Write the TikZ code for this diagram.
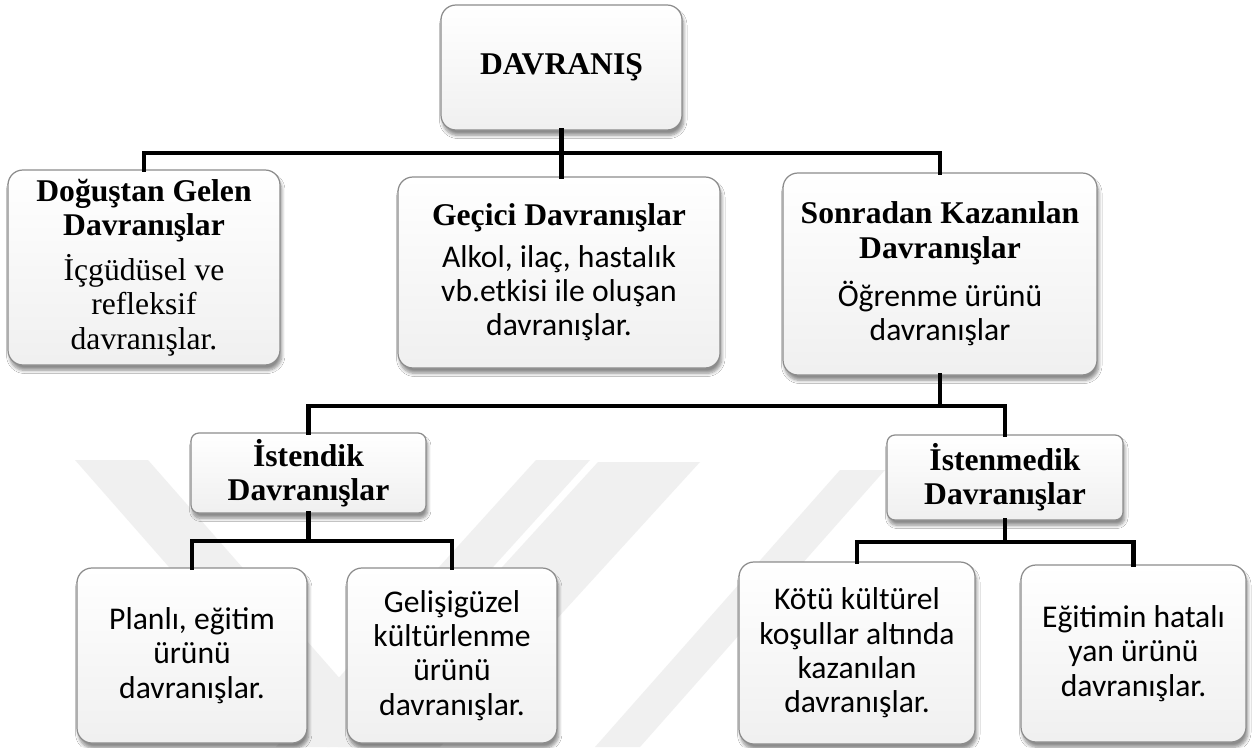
\documentclass[tikz,border=0pt]{standalone}
\usepackage{fontspec}
\setmainfont{Liberation Serif}
\newfontfamily\calfont{Carlito}
\usetikzlibrary{shadows.blur}
\newcommand{\pxu}{0.02cm}
\tikzset{
  box/.style={draw=black!45, line width=0.7pt, rounded corners=8.5pt,
    top color=white, bottom color=black!6, align=center, inner sep=2pt,
    blur shadow={shadow xshift=1pt, shadow yshift=-3pt, shadow blur steps=6, shadow opacity=45},
    font=\fontsize{18}{19.5}\selectfont},
  smallbox/.style={box, rounded corners=4.5pt},
  calbox/.style={box, font=\calfont\fontsize{18}{19.5}\selectfont},
  link/.style={line width=2.8pt, line cap=rect},
  wm/.style={fill=black!6, draw=none}
}
\begin{document}
\begin{tikzpicture}[x=0.02cm, y=-0.02cm]
\useasboundingbox (0,0) rectangle (1256,747);
\fill[white] (0,0) rectangle (1256,747);
% watermark
\fill[wm] (75,460) -- (148,460) -- (400,747) -- (327,747) -- cycle;
\fill[wm] (536,460) -- (590,460) -- (330,747) -- (276,747) -- cycle;
\fill[wm] (598,462) -- (700,462) -- (440,747) -- (338,747) -- cycle;
\fill[wm] (840,470) -- (885,470) -- (640,747) -- (595,747) -- cycle;

% nodes
\node[box, minimum width=241*\pxu, minimum height=125*\pxu] (top) at (561.5,67.5) {\textbf{DAVRANIŞ}};
\node[box, minimum width=272*\pxu, minimum height=195*\pxu] (b1) at (144,267.5)
  {\textbf{Doğuştan Gelen}\\\textbf{Davranışlar}\\[6pt]İçgüdüsel ve\\refleksif\\davranışlar.};
\node[box, minimum width=322*\pxu, minimum height=191*\pxu] (b2) at (559,272.5)
  {\textbf{Geçici Davranışlar}\\[4pt]{\calfont Alkol, ilaç, hastalık}\\{\calfont vb.etkisi ile oluşan}\\{\calfont davranışlar.}};
\node[box, minimum width=314*\pxu, minimum height=202*\pxu] (b3) at (940,274)
  {\textbf{Sonradan Kazanılan}\\\textbf{Davranışlar}\\[8pt]{\calfont Öğrenme ürünü}\\{\calfont davranışlar}};
\node[smallbox, minimum width=235*\pxu, minimum height=80*\pxu] (ist) at (308.5,473)
  {\textbf{İstendik}\\\textbf{Davranışlar}};
\node[smallbox, minimum width=236*\pxu, minimum height=85*\pxu] (istm) at (1005,477.5)
  {\textbf{İstenmedik}\\\textbf{Davranışlar}};
\node[calbox, minimum width=230*\pxu, minimum height=175*\pxu] (c1) at (192,655.5)
  {Planlı, eğitim\\ürünü\\davranışlar.};
\node[calbox, minimum width=210*\pxu, minimum height=175*\pxu] (c2) at (452,655.5)
  {Gelişigüzel\\kültürlenme\\ürünü\\davranışlar.};
\node[calbox, minimum width=236*\pxu, minimum height=182*\pxu] (c3) at (857,653)
  {Kötü kültürel\\koşullar altında\\kazanılan\\davranışlar.};
\node[calbox, minimum width=225*\pxu, minimum height=177*\pxu] (c4) at (1133.5,653.5)
  {Eğitimin hatalı\\yan ürünü\\davranışlar.};

% bus coordinates
\coordinate (bus1) at (0,153);
\coordinate (bus2) at (0,406);
\coordinate (bus3) at (0,541);
\coordinate (bus4) at (0,542);

% connectors
\draw[link] (top.south) -- (top.south |- bus1) -| (b1.north);
\draw[link] (top.south) -- (top.south |- b2.north);
\draw[link] (top.south |- bus1) -| (b3.north);
\draw[link] (b3.south) -- (b3.south |- bus2) -| (ist.north);
\draw[link] (b3.south |- bus2) -| (istm.north);
\draw[link] (ist.south) -- (ist.south |- bus3) -| (c1.north);
\draw[link] (ist.south |- bus3) -| (c2.north);
\draw[link] (istm.south) -- (istm.south |- bus4) -| (c3.north);
\draw[link] (istm.south |- bus4) -| (c4.north);
\end{tikzpicture}
\end{document}
